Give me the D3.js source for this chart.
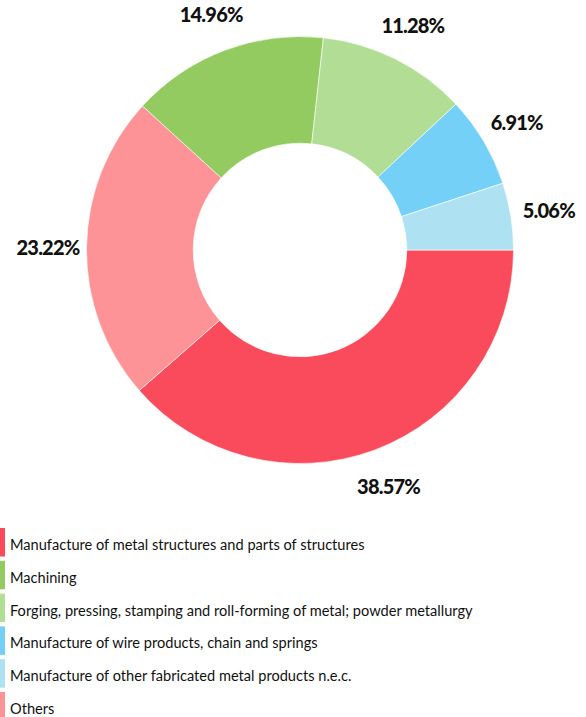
<!DOCTYPE html>
<html><head><meta charset="utf-8">
<script src="https://cdn.jsdelivr.net/npm/d3@7"></script>
<style>body{margin:0;background:#fff;}svg{display:block;}</style>
</head><body>
<svg id="c" width="586" height="717"></svg>
<script>
const categories = [
  "Manufacture of metal structures and parts of structures",
  "Others",
  "Machining",
  "Forging, pressing, stamping and roll-forming of metal; powder metallurgy",
  "Manufacture of wire products, chain and springs",
  "Manufacture of other fabricated metal products n.e.c."
];
const values = [38.57, 23.22, 14.96, 11.28, 6.91, 5.06];
const colors = ["#FA4B5C", "#FD9297", "#93CB60", "#B1DE94", "#74D0F6", "#AEE1F2"];
const legendOrder = [
  "Manufacture of metal structures and parts of structures",
  "Machining",
  "Forging, pressing, stamping and roll-forming of metal; powder metallurgy",
  "Manufacture of wire products, chain and springs",
  "Manufacture of other fabricated metal products n.e.c.",
  "Others"
];

const svg = d3.select("#c");
const cx = 300, cy = 250, R = 213.5, r = 106.8, labelR = 252;
const color = d3.scaleOrdinal().domain(categories).range(colors);
const data = categories.map((c, i) => ({cat: c, value: values[i]}));
const pie = d3.pie().value(d => d.value).sort(null).startAngle(Math.PI / 2).endAngle(Math.PI / 2 + 2 * Math.PI);
const arc = d3.arc().innerRadius(r).outerRadius(R);
const arcs = pie(data);
const g = svg.append("g").attr("transform", `translate(${cx},${cy})`);
g.selectAll("path").data(arcs).join("path")
  .attr("d", arc).attr("fill", d => color(d.data.cat))
  .attr("stroke", "#fff").attr("stroke-width", 0.6);
const labelArc = d3.arc().innerRadius(labelR).outerRadius(labelR);
g.selectAll("text").data(arcs).join("text")
  .attr("transform", d => { const [x, y] = labelArc.centroid(d); return `translate(${x},${y})`; })
  .attr("text-anchor", "middle").attr("dominant-baseline", "central")
  .attr("font-family", "Lato, sans-serif").attr("font-weight", 900)
  .attr("font-size", 20).attr("letter-spacing", -0.8).attr("fill", "#111")
  .text(d => d.data.value.toFixed(2) + "%");

const leg = svg.append("g");
const items = leg.selectAll("g").data(legendOrder).join("g")
  .attr("transform", (d, i) => `translate(0,${528 + i * 32.8})`);
items.append("rect").attr("x", 0).attr("y", 0).attr("width", 5).attr("height", 28.5)
  .attr("fill", d => color(d));
items.append("text").attr("x", 10).attr("y", 22)
  .attr("font-family", "Lato, sans-serif").attr("font-size", 14.6)
  .attr("fill", "#111")
  .text(d => d);
</script>
</body></html>
